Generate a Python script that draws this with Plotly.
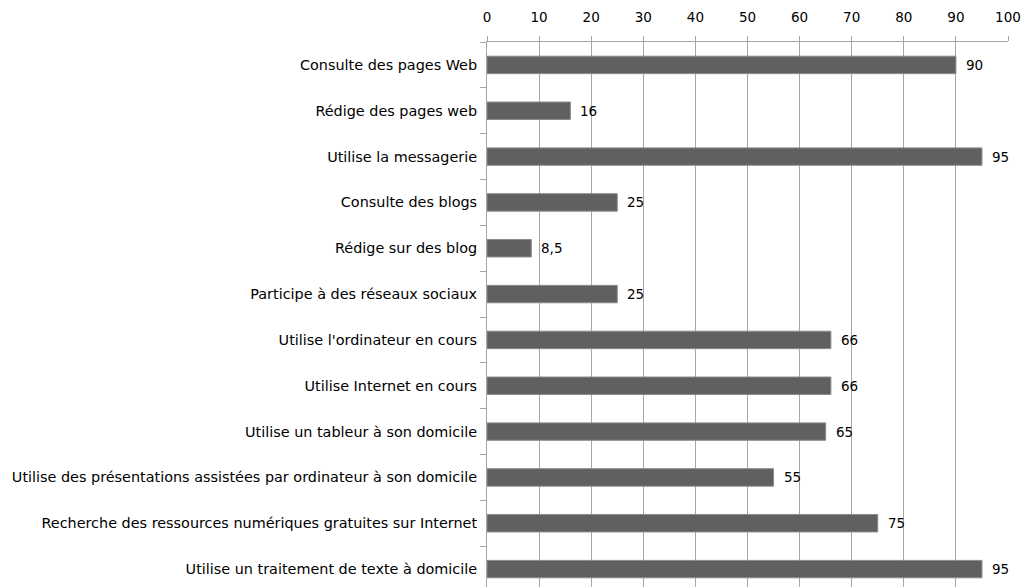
import plotly.graph_objects as go

categories = [
    "Consulte des pages Web",
    "Rédige des pages web",
    "Utilise la messagerie",
    "Consulte des blogs",
    "Rédige sur des blog",
    "Participe à des réseaux sociaux",
    "Utilise l'ordinateur en cours",
    "Utilise Internet en cours",
    "Utilise un tableur à son domicile",
    "Utilise des présentations assistées par ordinateur à son domicile",
    "Recherche des ressources numériques gratuites sur Internet",
    "Utilise un traitement de texte à domicile",
]
values = [90, 16, 95, 25, 8.5, 25, 66, 66, 65, 55, 75, 95]
value_labels = ["90", "16", "95", "25", "8,5", "25", "66", "66", "65", "55", "75", "95"]
x_ticks = [0, 10, 20, 30, 40, 50, 60, 70, 80, 90, 100]

FONT = "DejaVu Sans"

fig = go.Figure()
fig.add_trace(go.Bar(
    y=categories, x=values, orientation="h",
    width=0.38,
    marker=dict(color="#606060", line=dict(color="#8a8a8a", width=1)),
    hoverinfo="skip",
))

for c, v, t in zip(categories, values, value_labels):
    fig.add_annotation(x=v, y=c, text=t, showarrow=False, xanchor="left",
                       xshift=8, font=dict(family=FONT, size=13.5, color="#000000"))

fig.update_layout(
    width=1023, height=592,
    margin=dict(l=487, r=15, t=42, b=0),
    paper_bgcolor="white", plot_bgcolor="white",
    showlegend=False,
    font=dict(family=FONT, size=13, color="#000000"),
)
fig.update_xaxes(
    side="top", range=[0, 100], tickvals=x_ticks, automargin=False,
    showgrid=True, gridcolor="#a6a6a6", gridwidth=1,
    showline=True, linecolor="#a6a6a6", linewidth=1,
    ticks="outside", ticklen=5, tickcolor="#a6a6a6",
    zeroline=False, ticklabelstandoff=9,
    tickfont=dict(family=FONT, size=13.5, color="#000000"),
)
fig.update_yaxes(
    autorange="reversed", type="category", automargin=False,
    showline=True, linecolor="#a6a6a6", linewidth=1,
    ticks="outside", ticklen=6, tickcolor="#a6a6a6", tickson="boundaries",
    showgrid=False, ticklabelstandoff=6,
    tickfont=dict(family=FONT, size=14.4, color="#000000"),
)

fig.write_html(
    "out.html",
    config={"displayModeBar": False},
    post_script="document.body.style.margin='0';document.body.style.overflow='hidden';",
)
